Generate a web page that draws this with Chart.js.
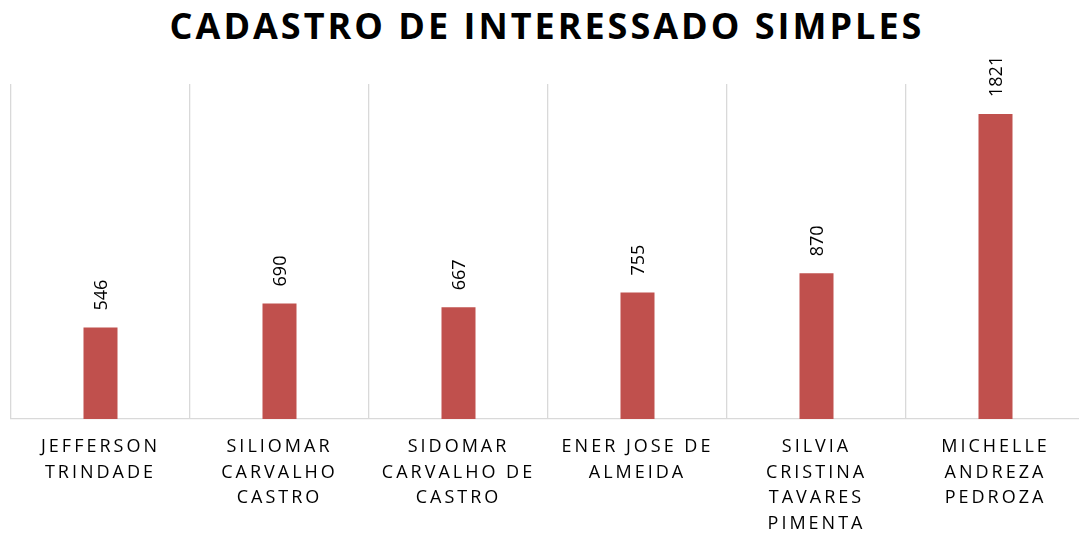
<!DOCTYPE html>
<html>
<head>
<meta charset="utf-8">
<script src="https://cdn.jsdelivr.net/npm/chart.js@4.4.0/dist/chart.umd.min.js"></script>
<style>
  html, body { margin: 0; padding: 0; background: #fff; overflow: hidden; }
  #wrap { position: relative; width: 1079px; height: 535px; overflow: hidden; }
  #titre {
    position: absolute; left: 0; top: 4px; width: 1094px; text-align: center;
    font-family: "Open Sans", sans-serif; font-weight: bold; font-size: 36px;
    letter-spacing: 3px; line-height: 44px; color: #000;
  }
  #box { position: absolute; left: 0; top: 0; width: 1090px; height: 535px; }
</style>
</head>
<body>
<div id="wrap">
  <div id="titre">CADASTRO DE INTERESSADO SIMPLES</div>
  <div id="box"><canvas id="barCanvas"></canvas></div>
</div>
<script>
// données du graphique
const categories = [
    ["JEFFERSON", "TRINDADE"],
    ["SILIOMAR", "CARVALHO", "CASTRO"],
    ["SIDOMAR", "CARVALHO DE", "CASTRO"],
    ["ENER JOSE DE", "ALMEIDA"],
    ["SILVIA", "CRISTINA", "TAVARES", "PIMENTA"],
    ["MICHELLE", "ANDREZA", "PEDROZA"]]
const valeurs = [546, 690, 667, 755, 870, 1821]
const yMax = 2000

// espacement des lettres pour les libellés de l'axe
const espacement = {
    id: 'espacement',
    beforeDraw(chart) { chart.ctx.letterSpacing = '3px' },
    beforeDatasetsDraw(chart) { chart.ctx.letterSpacing = '0px' }
}

// étiquettes verticales au-dessus des barres
const etiquettes = {
    id: 'etiquettes',
    afterDatasetsDraw(chart) {
        const ctx = chart.ctx
        const meta = chart.getDatasetMeta(0)
        meta.data.forEach((bar, i) => {
            ctx.save()
            ctx.translate(bar.x + 1, bar.y - 17)
            ctx.rotate(-Math.PI / 2)
            ctx.font = '18px "Open Sans"'
            ctx.fillStyle = '#000'
            ctx.textAlign = 'left'
            ctx.textBaseline = 'middle'
            ctx.fillText(valeurs[i], 0, 0)
            ctx.restore()
        })
    }
}

const barCanvas = document.getElementById('barCanvas')
const barchart = new Chart(barCanvas, {
    type: "bar",
    data: {
        labels: categories,
        datasets: [{
            data: valeurs,
            backgroundColor: "#C0504D",
            barPercentage: 0.19,
            categoryPercentage: 1
        }]
    },
    options: {
        responsive: true,
        maintainAspectRatio: false,
        animation: false,
        layout: { padding: { left: 11, right: 5, top: 84, bottom: 0 } },
        plugins: { legend: { display: false }, tooltip: { enabled: false } },
        scales: {
            x: {
                grid: { color: "#D9D9D9", lineWidth: 1.3, drawTicks: false, offset: true },
                border: { color: "#D9D9D9", width: 1.3 },
                afterFit(scale) { scale.height = 116 },
                ticks: {
                    color: "#000",
                    autoSkip: false,
                    maxRotation: 0,
                    padding: 15,
                    font: { family: "Open Sans", size: 18, lineHeight: 1.43 }
                }
            },
            y: {
                display: false,
                min: 0,
                max: yMax
            }
        }
    },
    plugins: [espacement, etiquettes]
})
</script>
</body>
</html>
